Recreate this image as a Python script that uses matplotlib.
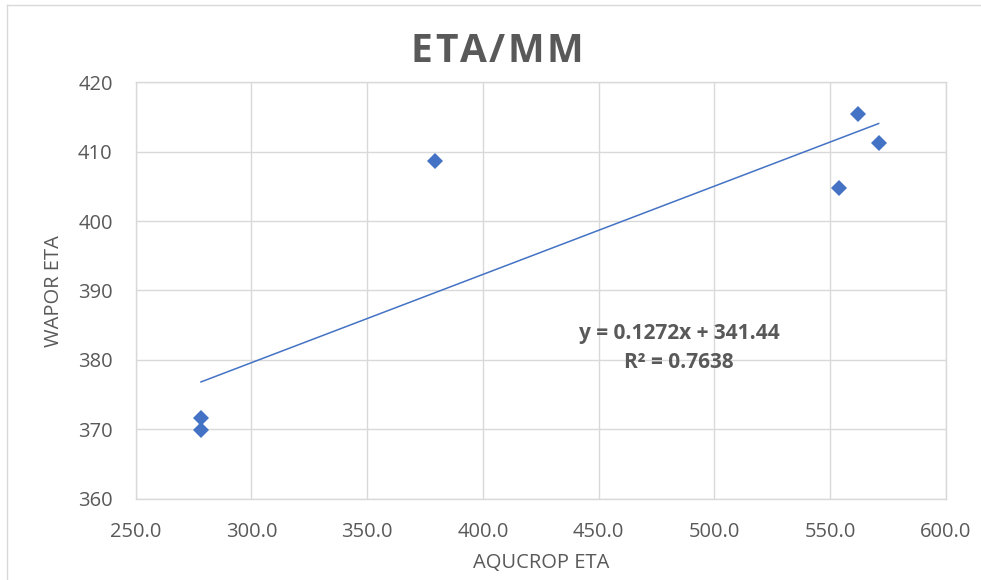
import matplotlib
matplotlib.use("Agg")
import matplotlib.pyplot as plt
from matplotlib.lines import Line2D
import numpy as np

# AquaCrop vs WaPOR actual evapotranspiration (mm)
aqucrop_eta = [278.2, 278.2, 379.2, 553.6, 562.0, 570.9]
wapor_eta = [371.6, 369.9, 408.7, 404.8, 415.5, 411.2]

# Linear trendline coefficients
slope = 0.1272
intercept = 341.44
r_squared = 0.7638

x_ticks = [250, 300, 350, 400, 450, 500, 550, 600]
y_ticks = [360, 370, 380, 390, 400, 410, 420]

title = "ETA/MM"
x_title = "AQUCROP ETA"
y_title = "WAPOR ETA"

text_gray = "#595959"
grid_gray = "#D9D9D9"
blue = "#4472C4"
sans = ["Open Sans", "DejaVu Sans"]

W, H = 981, 580
fig = plt.figure(figsize=(W / 100, H / 100), dpi=100)
fig.patch.set_facecolor("white")

ax = fig.add_axes([135.7 / W, 1 - 498.7 / H, (946 - 135.7) / W, (498.7 - 82.3) / H])

# Trendline across the data range
xs = np.array([min(aqucrop_eta), max(aqucrop_eta)])
ax.plot(xs, slope * xs + intercept, color=blue, lw=1.1, zorder=3)

ax.plot(aqucrop_eta, wapor_eta, linestyle="none", marker="D", ms=8.6,
        color=blue, markeredgewidth=0, zorder=4)

ax.set_xlim(x_ticks[0], x_ticks[-1])
ax.set_ylim(y_ticks[0], y_ticks[-1])
ax.set_xticks(x_ticks)
ax.set_yticks(y_ticks)
ax.set_xticklabels([f"{v:.1f}" for v in x_ticks])
ax.set_yticklabels([str(v) for v in y_ticks])

ax.grid(True, color=grid_gray, lw=1.0, zorder=0)
ax.set_axisbelow(True)
for sp in ax.spines.values():
    sp.set_color(grid_gray)
    sp.set_linewidth(1.0)

ax.tick_params(axis="both", length=0, labelsize=14.5, labelcolor=text_gray)
ax.tick_params(axis="x", pad=16.8)
ax.tick_params(axis="y", pad=16.6)
for lab in ax.get_xticklabels() + ax.get_yticklabels():
    lab.set_fontfamily(sans)

# Trendline equation
fig.text(679 / W, 1 - 334 / H, f"y = {slope}x + {intercept}",
         ha="center", va="center", fontsize=15, fontweight="bold",
         color=text_gray, family=sans)
fig.text(679 / W, 1 - 363 / H, f"R² = {r_squared}",
         ha="center", va="center", fontsize=15, fontweight="bold",
         color=text_gray, family=sans)


def tracked_text(s, x_left, x_right, y_center, **kw):
    """Draw a string letter by letter, spread evenly between two x pixels."""
    renderer = fig.canvas.get_renderer()
    widths = []
    for ch in s:
        t = fig.text(0, 0, ch, **kw)
        widths.append(t.get_window_extent(renderer).width)
        t.remove()
    gap = (x_right - x_left - sum(widths)) / (len(s) - 1)
    x = x_left
    for ch, w in zip(s, widths):
        fig.text(x / W, 1 - y_center / H, ch, ha="left", va="center", **kw)
        x += w + gap


tracked_text(title, 411, 583, 52, fontsize=28, fontweight="bold",
             color=text_gray, family=sans)

fig.text(54 / W, 1 - 291 / H, y_title, ha="center", va="center",
         rotation=90, fontsize=14.5, color=text_gray, family=sans)
fig.text(541 / W, 1 - 563 / H, x_title, ha="center", va="center",
         fontsize=14.5, color=text_gray, family=sans)

# Chart area frame
fig.add_artist(Line2D([7 / W, 7 / W], [0, 1 - 5 / H], transform=fig.transFigure,
                      color=grid_gray, lw=1.0))
fig.add_artist(Line2D([7 / W, 1], [1 - 5 / H, 1 - 5 / H], transform=fig.transFigure,
                      color=grid_gray, lw=1.0))

fig.savefig("out.png", dpi=100, facecolor="white")
